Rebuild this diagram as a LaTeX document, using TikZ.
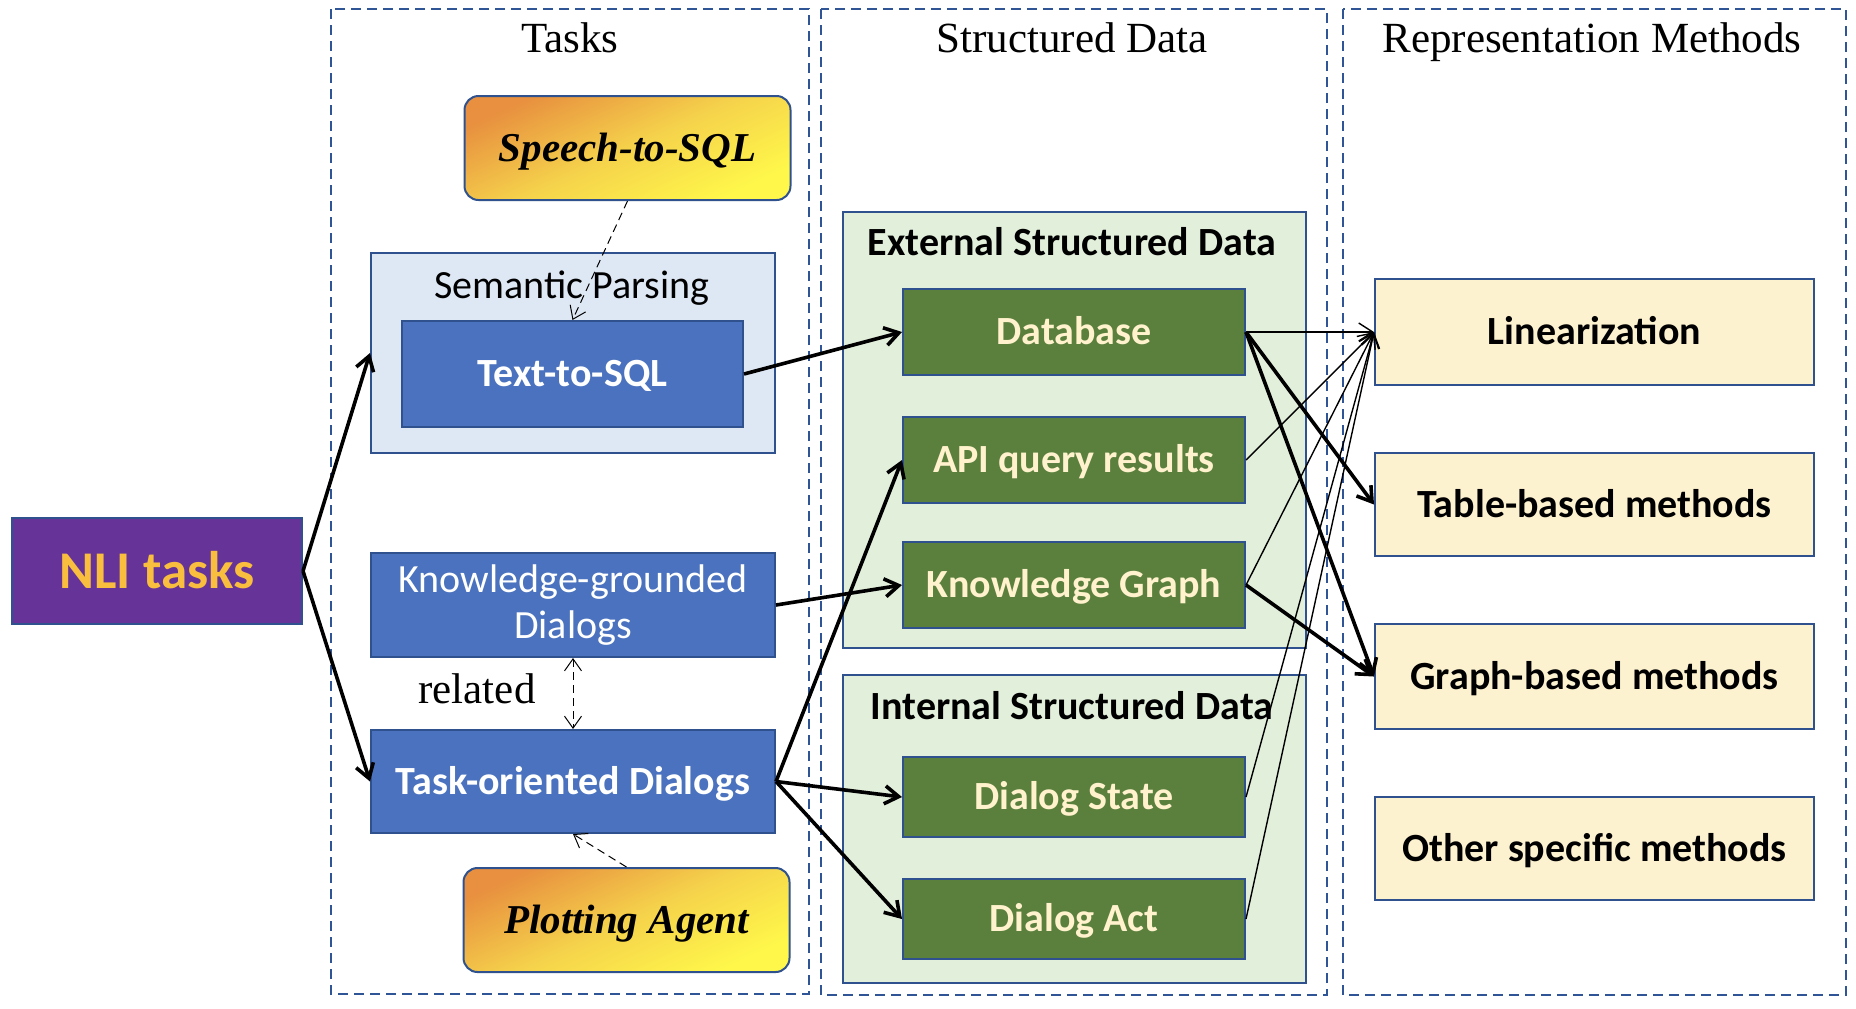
\documentclass[tikz,border=0pt]{standalone}
\usepackage{fontspec}
\setmainfont{Liberation Serif}
\newfontfamily\calfont{Carlito}
\usetikzlibrary{arrows.meta}
\definecolor{panelblue}{HTML}{2F5597}
\definecolor{boxborder}{HTML}{2F528F}
\definecolor{bluefill}{HTML}{4A72BE}
\definecolor{semfill}{HTML}{DEE8F4}
\definecolor{nlifill}{HTML}{663399}
\definecolor{nlitext}{HTML}{F9BE3D}
\definecolor{lgreen}{HTML}{E2EFDA}
\definecolor{dgreen}{HTML}{5B803E}
\definecolor{gtext}{HTML}{FFF2CC}
\definecolor{cream}{HTML}{FDF2D0}
\definecolor{orng}{HTML}{E8903F}
\definecolor{midgold}{HTML}{F5D24B}
\definecolor{yel}{HTML}{FFF84A}
\begin{document}
\begin{tikzpicture}[x=0.5pt,y=-0.5pt,
  panel/.style={draw=panelblue, line width=0.85pt, dash pattern=on 5pt off 3pt},
  box/.style={draw=boxborder, line width=1pt, inner sep=0pt, anchor=center},
  lab/.style={font=\calfont\fontsize{20}{24}\selectfont, text height=12.9pt, text depth=0pt},
  blab/.style={font=\calfont\bfseries\fontsize{20}{24}\selectfont, text height=12.9pt, text depth=0pt},
  title/.style={font=\fontsize{21.5}{26}\selectfont, anchor=base, inner sep=0pt},
  sublab/.style={font=\calfont\bfseries\fontsize{20}{24}\selectfont, anchor=base, inner sep=0pt},
  bluebox/.style={box, fill=bluefill, text=white, minimum width=202pt},
  greenbox/.style={box, fill=dgreen, text=gtext, blab, minimum width=171pt},
  methbox/.style={box, fill=cream, text=black, blab, minimum width=219.5pt},
  goldbox/.style={box, rounded corners=7pt, top color=orng, bottom color=yel, middle color=midgold, shading angle=25,
    font=\bfseries\itshape\fontsize{20.5}{24}\selectfont, text height=13.6pt, text depth=0pt,
    minimum width=163pt, minimum height=52pt},
  thick arrow/.style={line width=1.8pt, -{Straight Barb[length=7pt,width=9pt]}},
  thin arrow/.style={line width=0.7pt, -{Straight Barb[length=7pt,width=9pt]}},
  dash arrow/.style={line width=0.5pt, dash pattern=on 4pt off 2.5pt, -{Straight Barb[length=6pt,width=8.5pt]}},
]
\fill[white] (0,0) rectangle (1856,1008);
\useasboundingbox (0,0) rectangle (1856,1008);

% panels
\draw[panel] (331,9) rectangle (809,994);
\draw[panel] (821,9) rectangle (1327,995);
\draw[panel] (1343,9) rectangle (1846,995);
\node[title] (ttasks) at (570,52) {Tasks};
\node[title] (tsd) at (1072,52) {Structured Data};
\node[title] (trm) at (1592,52) {Representation Methods};

% left column
\node[box, fill=nlifill, text=nlitext, font=\calfont\bfseries\fontsize{26.5}{30}\selectfont,
  text height=17pt, text depth=0pt, minimum width=145pt, minimum height=53pt] (nli) at (157,571) {NLI tasks};

\node[goldbox] (speech) at (627.5,148) {Speech-to-SQL};
\node[box, fill=semfill, minimum width=202pt, minimum height=100pt] (sem) at (573,353) {};
\node[font=\calfont\fontsize{20}{24}\selectfont, anchor=base, inner sep=0pt] (semlab) at (572,298) {Semantic Parsing};
\node[box, fill=bluefill, text=white, blab, minimum width=170.5pt, minimum height=53pt] (t2s) at (572.5,374) {Text-to-SQL};

\node[bluebox, minimum height=52pt] (kgd) at (573,605) {};
\node[font=\calfont\fontsize{20}{24}\selectfont, text=white, anchor=base, inner sep=0pt] (kgdl1) at (573,592) {Knowledge-grounded};
\node[font=\calfont\fontsize{20}{24}\selectfont, text=white, anchor=base, inner sep=0pt] (kgdl2) at (573,638) {Dialogs};

\node[bluebox, blab, minimum height=51.5pt] (tod) at (573,781.5) {Task-oriented Dialogs};
\node[font=\fontsize{21.5}{26}\selectfont, anchor=base, inner sep=0pt] (rel) at (477,703) {related};
\node[goldbox] (plot) at (626.5,920) {Plotting Agent};

% structured data
\node[box, fill=lgreen, minimum width=231.5pt, minimum height=218pt] (ext) at (1074.5,430) {};
\node[sublab] (extl) at (1072,255) {External Structured Data};
\node[box, fill=lgreen, minimum width=231.5pt, minimum height=154pt] (int) at (1074.5,829) {};
\node[sublab] (intl) at (1072,719) {Internal Structured Data};

\node[greenbox, minimum height=43pt] (db) at (1074,332) {Database};
\node[greenbox, minimum height=43pt] (api) at (1074,460) {API query results};
\node[greenbox, minimum height=43pt] (kg) at (1074,585) {Knowledge Graph};
\node[greenbox, minimum height=40pt] (ds) at (1074,797) {Dialog State};
\node[greenbox, minimum height=40pt] (da) at (1074,919) {Dialog Act};

% methods
\node[methbox, minimum height=53pt] (lin) at (1594.5,332) {Linearization};
\node[methbox, minimum height=51.5pt] (tab) at (1594.5,504.5) {Table-based methods};
\node[methbox, minimum height=52.5pt] (gra) at (1594.5,676.5) {Graph-based methods};
\node[methbox, minimum height=51.5pt] (oth) at (1594.5,848.5) {Other specific methods};

% connectors
\draw[thick arrow] (nli.east) -- (sem.west);
\draw[thick arrow] (nli.east) -- (tod.west);
\draw[thick arrow] (t2s.east) -- (db.west);
\draw[thick arrow] (kgd.east) -- (kg.west);
\draw[thick arrow] (tod.east) -- (api.west);
\draw[thick arrow] (tod.east) -- (ds.west);
\draw[thick arrow] (tod.east) -- (da.west);

\draw[dash arrow] (speech.south) -- (t2s.north);
\draw[dash arrow] (plot.north) -- (tod.south);
\draw[dash arrow, {Straight Barb[length=6pt,width=8.5pt]}-{Straight Barb[length=6pt,width=8.5pt]}] (kgd.south) -- (tod.north);

\draw[thin arrow] (db.east) -- (lin.west);
\draw[thin arrow] (api.east) -- (lin.west);
\draw[thin arrow] (kg.east) -- (lin.west);
\draw[thin arrow] (ds.east) -- (lin.west);
\draw[thin arrow] (da.east) -- (lin.west);
\draw[thick arrow] (db.east) -- (tab.west);
\draw[thick arrow] (db.east) -- (gra.west);
\draw[thick arrow] (kg.east) -- (gra.west);
\end{tikzpicture}
\end{document}
